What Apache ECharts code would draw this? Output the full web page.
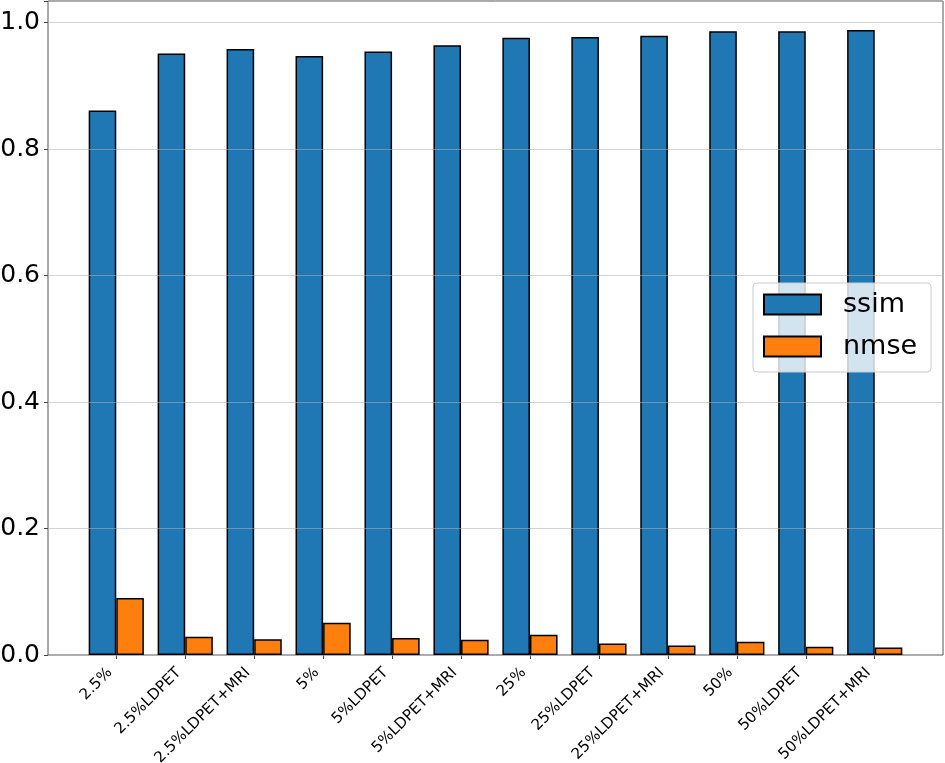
<!DOCTYPE html>
<html>
<head>
<meta charset="utf-8">
<script src="https://cdn.jsdelivr.net/npm/echarts@6/dist/echarts.min.js"></script>
<style>html,body{margin:0;padding:0;background:#fff}#c{width:945px;height:763px}</style>
</head>
<body>
<div id="c"></div>
<script>
const categories = ['2.5%','2.5%LDPET','2.5%LDPET+MRI','5%','5%LDPET','5%LDPET+MRI','25%','25%LDPET','25%LDPET+MRI','50%','50%LDPET','50%LDPET+MRI'];
const ssim = [0.861,0.951,0.958,0.947,0.954,0.964,0.976,0.977,0.979,0.986,0.986,0.988];
const nmse = [0.090,0.029,0.025,0.051,0.027,0.024,0.032,0.018,0.015,0.021,0.013,0.012];
const yTicks = [0.0,0.2,0.4,0.6,0.8,1.0];

const FONT = 'DejaVu Sans';
const YMAX = 1.034;
const chart = echarts.init(document.getElementById('c'), null, {renderer:'canvas'});
chart.setOption({
  animation:false,
  backgroundColor:'#fff',
  textStyle:{fontFamily:FONT},
  grid:[
    {left:48, right:2, top:1, bottom:108, show:true, borderColor:'#555', borderWidth:1, backgroundColor:'transparent', outerBoundsMode:'none', containLabel:false},
    {left:81.8, right:35.8, top:1, bottom:108, outerBoundsMode:'none', containLabel:false}
  ],
  xAxis:[
    {gridIndex:0, type:'value', min:0, max:1, show:false},
    {gridIndex:1, type:'category', data:categories,
      axisLine:{show:false},
      axisTick:{show:true, alignWithLabel:true, length:4, lineStyle:{color:'#444'}},
      axisLabel:{rotate:45, fontSize:15.2, color:'#000', fontFamily:FONT, margin:9, padding:[0,9,0,0], interval:0}
    }
  ],
  yAxis:[
    {gridIndex:0, type:'value', min:0, max:YMAX, interval:0.2, z:5,
      axisLine:{show:false},
      axisTick:{show:true, length:4, lineStyle:{color:'#444'}},
      splitLine:{show:true, lineStyle:{color:'rgba(176,176,176,0.55)', width:1.2}},
      axisLabel:{fontSize:25, color:'#000', fontFamily:FONT, margin:8,
        formatter:v => yTicks.some(t=>Math.abs(t-v)<1e-9) ? v.toFixed(1) : ''},
      showMaxLabel:false
    },
    {gridIndex:1, type:'value', min:0, max:YMAX, interval:0.2,
      axisLine:{show:false}, axisTick:{show:false}, axisLabel:{show:false},
      splitLine:{show:false}
    }
  ],
  legend:{
    left:753, top:283, orient:'vertical', itemWidth:57, itemHeight:20, itemGap:15,
    padding:[8,14,12,10], z:10,
    backgroundColor:'rgba(255,255,255,0.8)', borderColor:'#cccccc', borderWidth:1, borderRadius:4,
    textStyle:{fontSize:27, color:'#000', fontFamily:FONT, padding:[0,0,0,17]},
    icon:'rect',
    data:['ssim','nmse']
  },
  series:[
    {name:'ssim', type:'bar', xAxisIndex:1, yAxisIndex:1, data:ssim, barWidth:27.6, barGap:'0%',
      itemStyle:{color:'#1f77b4', borderColor:'#000', borderWidth:1.5}},
    {name:'nmse', type:'bar', xAxisIndex:1, yAxisIndex:1, data:nmse, barWidth:27.6, barGap:'0%',
      itemStyle:{color:'#ff7f0e', borderColor:'#000', borderWidth:1.5}}
  ]
});
</script>
</body>
</html>
